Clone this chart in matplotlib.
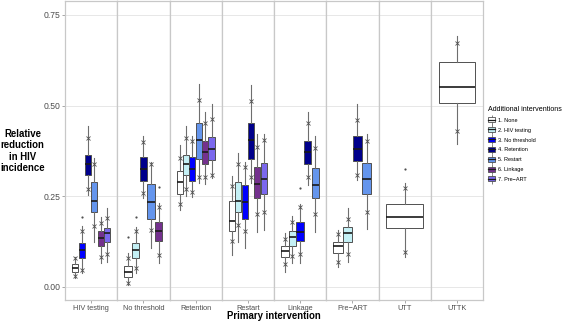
import numpy as np
import matplotlib.pyplot as plt
from matplotlib.patches import Patch
from matplotlib.lines import Line2D

plt.rcParams['font.family'] = ['Liberation Sans', 'DejaVu Sans']

# panels (primary intervention) and additional intervention groups
primary = ['HIV testing', 'No threshold', 'Retention', 'Restart',
           'Linkage', 'Pre\u2212ART', 'UTT', 'UTTK']
additional = ['1. None', '2. HIV testing', '3. No threshold', '4. Retention',
              '5. Restart', '6. Linkage', '7. Pre\u2212ART']
colors = ['#FFFFFF', '#C4F0F5', '#0000FF', '#00008B',
          '#6495ED', '#74318E', '#7B68EE']

# one entry per box: panel index, group index, then the box statistics
panel = [0, 0, 0, 0, 0, 0,
         1, 1, 1, 1, 1,
         2, 2, 2, 2, 2, 2,
         3, 3, 3, 3, 3, 3,
         4, 4, 4, 4, 4,
         5, 5, 5, 5,
         6, 7]
group = [0, 2, 3, 4, 5, 6,
         0, 1, 3, 4, 5,
         0, 1, 2, 4, 5, 6,
         0, 1, 2, 3, 5, 6,
         0, 1, 2, 3, 4,
         0, 1, 3, 4,
         0, 0]
whislo = [.023, .037, .253, .124, .065, .069,
          .005, .037, .246, .106, .065,
          .212, .250, .248, .285, .283, .299,
          .087, .124, .106, .285, .152, .156,
          .041, .065, .065, .281, .152,
          .055, .069, .294, .158,
          .081, .394]
p5 = [.030, .046, .271, .168, .083, .090,
      .009, .051, .260, .156, .087,
      .228, .271, .261, .304, .302, .308,
      .126, .169, .155, .304, .200, .207,
      .063, .085, .089, .304, .200,
      .067, .090, .308, .207,
      .097, .430]
q1 = [.041, .080, .308, .207, .113, .124,
      .028, .078, .292, .186, .127,
      .256, .307, .292, .352, .340, .350,
      .155, .206, .186, .352, .244, .255,
      .083, .113, .126, .340, .244,
      .092, .124, .348, .255,
      .161, .506]
med = [.053, .101, .339, .237, .135, .147,
       .041, .101, .324, .233, .154,
       .290, .338, .325, .405, .373, .380,
       .182, .237, .233, .405, .283, .297,
       .099, .136, .152, .373, .281,
       .113, .147, .380, .296,
       .193, .550]
q3 = [.064, .122, .363, .288, .155, .163,
      .058, .122, .359, .283, .178,
      .320, .364, .357, .451, .401, .414,
      .237, .289, .281, .451, .331, .342,
      .112, .155, .178, .402, .329,
      .124, .164, .416, .342,
      .227, .619]
p95 = [.079, .154, .411, .340, .177, .189,
       .080, .154, .400, .339, .219,
       .356, .410, .402, .514, .451, .462,
       .279, .340, .331, .513, .385, .405,
       .131, .178, .219, .451, .384,
       .145, .187, .460, .403,
       .272, .672]
whishi = [.083, .167, .443, .354, .193, .216,
          .092, .166, .416, .345, .230,
          .391, .443, .416, .559, .483, .503,
          .305, .370, .345, .558, .421, .421,
          .147, .195, .227, .483, .417,
          .156, .216, .503, .421,
          .285, .693]
outliers = [[], [.193], [], [], [], [],
            [.138], [.193], [], [], [.274],
            [], [], [], [], [], [],
            [], [], [], [], [], [],
            [], [], [.273], [], [],
            [], [], [], [],
            [.325], []]

W, H = 567, 322
fig = plt.figure(figsize=(W / 100, H / 100), dpi=100)
axes = fig.subplots(1, 8, sharey=True, gridspec_kw=dict(wspace=0))
fig.subplots_adjust(left=65 / W, right=483 / W, bottom=1 - 299.5 / H, top=1 - 0.5 / H)

for p, ax in enumerate(axes):
    idx = [i for i in range(len(panel)) if panel[i] == p]
    n = len(idx)
    step = 0.73 / n
    pos = [(k - (n - 1) / 2) * step for k in range(n)]
    stats = [dict(med=med[i], q1=q1[i], q3=q3[i], whislo=whislo[i],
                  whishi=whishi[i], fliers=outliers[i]) for i in idx]
    bp = ax.bxp(stats, positions=pos, widths=step * 0.96, patch_artist=True,
                showcaps=False,
                boxprops=dict(edgecolor='#505050', lw=0.7),
                medianprops=dict(color='#1A1A1A', lw=1.2),
                whiskerprops=dict(color='#6E6E6E', lw=0.8),
                flierprops=dict(marker='o', ms=1.6, mfc='#505050', mec='none'))
    for box, i in zip(bp['boxes'], idx):
        box.set_facecolor(colors[group[i]])
    ax.plot(pos, [p5[i] for i in idx], 'x', color='#505050', ms=2.4, mew=0.6, zorder=4)
    ax.plot(pos, [p95[i] for i in idx], 'x', color='#505050', ms=2.4, mew=0.6, zorder=4)

    ax.set_xlim(-0.5, 0.5)
    ax.set_xticks([0])
    ax.set_xticklabels([primary[p]])
    ax.tick_params(axis='x', length=2, width=0.6, color='#9A9A9A', pad=1.8,
                   labelsize=5.3, labelcolor='#4D4D4D')
    ax.grid(axis='y', color='#E3E3E3', lw=0.6)
    ax.set_axisbelow(True)
    for s in ax.spines.values():
        s.set_color('#C8C8C8')
        s.set_linewidth(0.9)
    if p > 0:
        ax.tick_params(axis='y', left=False)

axes[0].set_ylim(-0.0353, 0.790)
axes[0].set_yticks([0, 0.25, 0.5, 0.75])
axes[0].set_yticklabels(['0.00', '0.25', '0.50', '0.75'])
axes[0].tick_params(axis='y', length=2, width=0.6, color='#9A9A9A', pad=1.5,
                    labelsize=6.2, labelcolor='#4D4D4D')

fig.text(22.5 / W, 1 - 151 / H, 'Relative\nreduction\nin HIV\nincidence',
         ha='center', va='center', fontsize=6.9, weight='bold', linespacing=1.2)
fig.text(274 / W, 1 - 321 / H, 'Primary intervention',
         ha='center', va='bottom', fontsize=6.9, weight='bold')

handles = [(Line2D([], [], marker='|', ms=6.5, mew=0.6, color='#6E6E6E', ls='none'),
            Patch(facecolor=c, edgecolor='#505050', lw=0.6),
            Line2D([], [], color='#1A1A1A', lw=0.9)) for c in colors]
fig.legend(handles, additional, title='Additional interventions',
           loc='upper left', bbox_to_anchor=(488 / W, 1 - 106 / H),
           frameon=False, fontsize=4, title_fontsize=5.1, alignment='left',
           handlelength=1.3, handleheight=1.0, labelspacing=0.8,
           handletextpad=0.5, borderaxespad=0, borderpad=0)

fig.savefig('out.png', dpi=100)
